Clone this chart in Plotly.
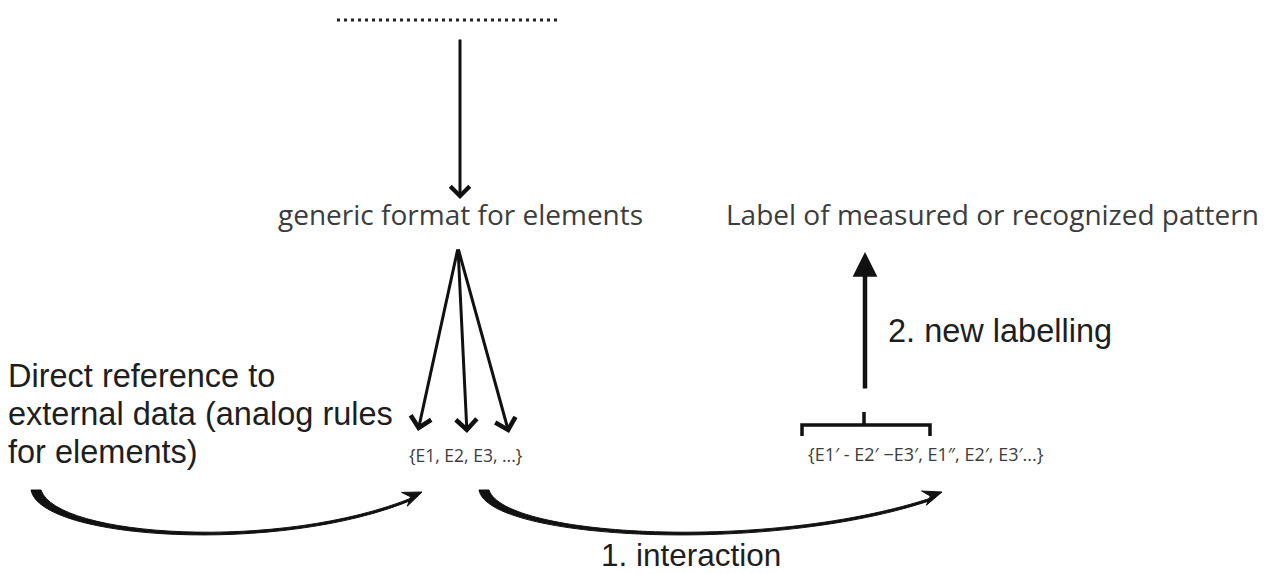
import plotly.graph_objects as go

W, H = 1274, 574

# ---- text content ----
top_labels = ["generic format for elements", "Label of measured or recognized pattern"]
left_lines = ["Direct reference to", "external data (analog rules", "for elements)"]
set_labels = ["{E1, E2, E3, ...}", "{E1\u2032 - E2\u2032 \u2212E3\u2032, E1\u2033, E2\u2032, E3\u2032...}"]
step_labels = ["1. interaction", "2. new labelling"]

CAL = "Open Sans, Carlito, Calibri, sans-serif"
ARI = "Liberation Sans, Arial, sans-serif"
GRAY = "#3c3c3c"
BLK = "#1e1e1e"

fig = go.Figure()
fig.add_trace(go.Scatter(x=[0, W], y=[0, H], mode="markers", marker=dict(opacity=0), hoverinfo="skip", showlegend=False))

shapes = []
ann = []

# dotted line at top
shapes.append(dict(type="line", x0=337, y0=20, x1=558, y1=20, line=dict(color="#222", width=3, dash="3px,4px")))

def arrow(x0, y0, x1, y1, width=3, head=4, size=1.0):
    ann.append(dict(x=x1, y=y1, ax=x0, ay=y0, xref="x", yref="y", axref="x", ayref="y",
                    showarrow=True, arrowhead=head, arrowsize=size, arrowwidth=width,
                    arrowcolor="#111", standoff=0, text=""))

# vertical thin arrow from dots to generic format
arrow(460, 38, 460, 199, width=3, head=4, size=1.25)
# fan arrows
apex = (458, 248)
for tx, ty in [(418, 431), (467, 433), (509, 433)]:
    arrow(apex[0], apex[1], tx, ty, width=3, head=4, size=1.35)
# thick arrow upward
arrow(865, 390, 865, 252, width=4.5, head=2, size=1.1)

# bracket
shapes.append(dict(type="path", path="M 802,436 L 802,425 L 930,425 L 930,436", line=dict(color="#111", width=3.5)))
shapes.append(dict(type="line", x0=864, y0=425, x1=864, y1=412, line=dict(color="#111", width=3.5)))

def curved(p0, c1, c2, p3, thick, tip):
    # tapered crescent from p0 to p3 plus filled arrowhead
    x0, y0 = p0
    ux0, uy0 = x0 + thick, y0
    ex, ey = p3
    path = (f"M {x0},{y0} C {c1[0]},{c1[1]} {c2[0]},{c2[1]} {ex},{ey} "
            f"L {ex+2},{ey-3} C {c2[0]},{c2[1]-3} {c1[0]+16},{c1[1]-3} {ux0},{uy0} Z")
    shapes.append(dict(type="path", path=path, fillcolor="#111", line=dict(color="#111", width=1)))
    dx, dy = ex - c2[0], ey - c2[1]
    L = (dx * dx + dy * dy) ** 0.5
    dx, dy = dx / L, dy / L
    nx, ny = -dy, dx
    hl, hw = 19, 7.5
    bx, by = tip[0] - hl * dx, tip[1] - hl * dy
    hp = (f"M {tip[0]},{tip[1]} L {bx+hw*nx:.1f},{by+hw*ny:.1f} L {bx+0.35*hl*dx:.1f},{by+0.35*hl*dy:.1f} "
          f"L {bx-hw*nx:.1f},{by-hw*ny:.1f} Z")
    shapes.append(dict(type="path", path=hp, fillcolor="#111", line=dict(color="#111", width=1)))

curved((31, 490), (40, 540), (280, 555), (412, 500), 10, (422, 492))
curved((479, 490), (488, 540), (770, 555), (932, 500), 10, (942, 492))

# texts
ann.append(dict(x=460, y=214, text=top_labels[0], showarrow=False, xanchor="center", yanchor="middle",
                font=dict(family=CAL, size=28, color=GRAY)))
ann.append(dict(x=992, y=214, text=top_labels[1], showarrow=False, xanchor="center", yanchor="middle",
                font=dict(family=CAL, size=28, color=GRAY)))
for i, t in enumerate(left_lines):
    ann.append(dict(x=6, y=376 + 38 * i, text=t, showarrow=False, xanchor="left", yanchor="middle",
                    font=dict(family=ARI, size=32.5, color=BLK)))
ann.append(dict(x=466, y=455, text=set_labels[0], showarrow=False, xanchor="center", yanchor="middle",
                font=dict(family=CAL, size=17.5, color=GRAY)))
ann.append(dict(x=926, y=454, text=set_labels[1], showarrow=False, xanchor="center", yanchor="middle",
                font=dict(family=CAL, size=18, color=GRAY)))
ann.append(dict(x=691, y=555, text=step_labels[0], showarrow=False, xanchor="center", yanchor="middle",
                font=dict(family=ARI, size=31.5, color=BLK)))
ann.append(dict(x=886, y=331, text=step_labels[1], showarrow=False, xanchor="left", yanchor="middle",
                font=dict(family=ARI, size=32.5, color=BLK)))

for a in ann:
    a.setdefault("xref", "x")
    a.setdefault("yref", "y")

fig.update_layout(
    width=W, height=H, margin=dict(l=0, r=0, t=0, b=0),
    paper_bgcolor="white", plot_bgcolor="white",
    xaxis=dict(range=[0, W], visible=False, fixedrange=True),
    yaxis=dict(range=[H, 0], visible=False, fixedrange=True),
    shapes=shapes, annotations=ann, showlegend=False,
)
fig.write_html("out.html", config={"displayModeBar": False},
               post_script="document.body.style.margin='0';document.body.style.overflow='hidden';")
